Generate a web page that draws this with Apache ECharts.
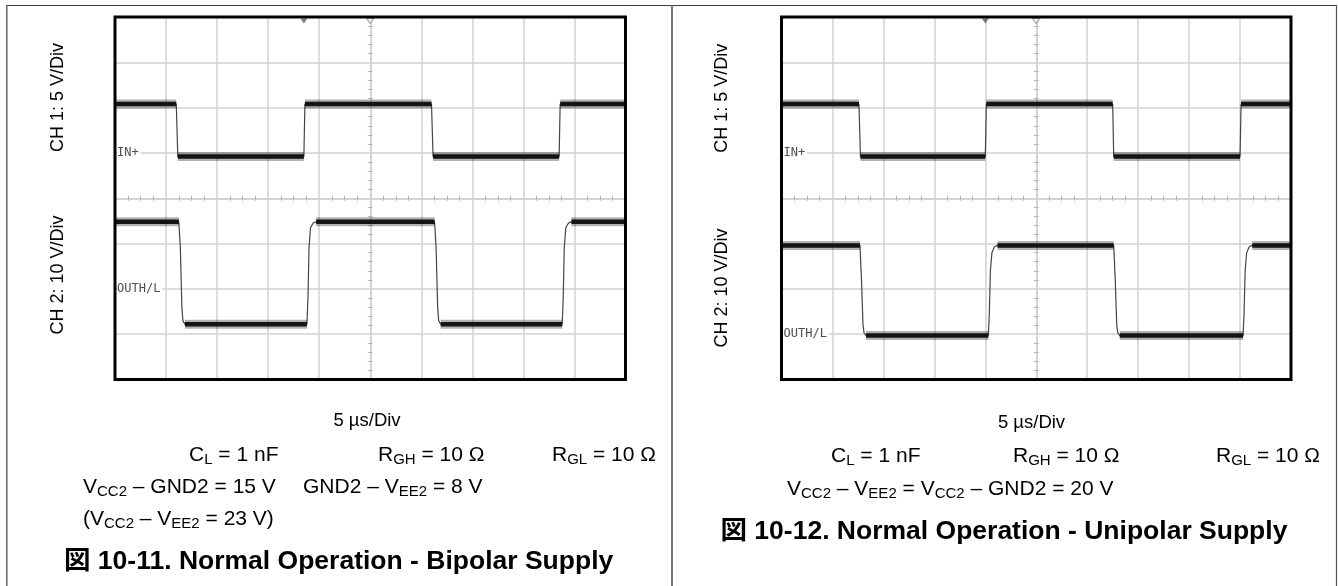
<!DOCTYPE html>
<html>
<head>
<meta charset="utf-8">
<script src="https://cdn.jsdelivr.net/npm/echarts@6/dist/echarts.min.js"></script>
<style>
html,body{margin:0;padding:0;background:#fff;}
#chart{width:1338px;height:586px;}
</style>
</head>
<body>
<div id="chart"></div>
<script>
// Horizontal: 5 µs/div, 10 divisions, 0 µs at the centre graticule line
const timeMin = -25, timeMax = 25, timePerDiv = 5;

// Vertical scales (volts), 8 divisions each
const ch1Axis = { min: -25, max: 15, interval: 5 };            // CH 1: 5 V/Div
const ch2AxisBipolar = { min: -20, max: 60, interval: 10 };    // CH 2: 10 V/Div
const ch2AxisUnipolar = { min: -10, max: 70, interval: 10 };   // CH 2: 10 V/Div

// Waveforms as [time µs, volts]
const bipolarIn = [[-25, 5.4], [-19.0, 5.4], [-18.85, -0.4], [-6.5, -0.4], [-6.4, 5.4],
  [6.0, 5.4], [6.15, -0.4], [18.5, -0.4], [18.6, 5.4], [25, 5.4]];
const bipolarOut = [[-25, 14.8], [-18.75, 14.8], [-18.6, 9], [-18.45, -4], [-18.35, -7], [-18.15, -7.8],
  [-6.2, -7.8], [-6.1, -2], [-6.0, 9], [-5.85, 13.5], [-5.6, 14.5], [-5.3, 14.8],
  [6.3, 14.8], [6.45, 9], [6.6, -4], [6.7, -7], [6.9, -7.8],
  [18.8, -7.8], [18.9, -2], [19.0, 9], [19.15, 13.5], [19.4, 14.5], [19.7, 14.8], [25, 14.8]];
const unipolarIn = [[-25, 5.4], [-17.4, 5.4], [-17.25, -0.4], [-5.0, -0.4], [-4.9, 5.4],
  [7.5, 5.4], [7.6, -0.4], [20.0, -0.4], [20.1, 5.4], [25, 5.4]];
const unipolarOut = [[-25, 19.6], [-17.3, 19.6], [-17.15, 12], [-17.0, 2], [-16.9, 0.3], [-16.7, -0.3],
  [-4.7, -0.3], [-4.6, 5], [-4.5, 14], [-4.35, 18], [-4.1, 19.3], [-3.8, 19.6],
  [7.6, 19.6], [7.75, 12], [7.9, 2], [8.0, 0.3], [8.2, -0.3],
  [20.3, -0.3], [20.4, 5], [20.5, 14], [20.65, 18], [20.9, 19.3], [21.2, 19.6], [25, 19.6]];

// Trigger position markers (µs)
const bipolarTrigger = -6.5;
const unipolarTrigger = -5.0;
const timeReference = 0;

// Channel ground marker names
const ch1Name = 'IN+';
const ch2Name = 'OUTH/L';

const GRID_COLOR = '#d2d2d2';
const TICK_COLOR = '#b4b4b4';
const TXT = '"Liberation Sans", Arial, Helvetica, sans-serif';
const CAP = '"Liberation Sans", Arial, "Noto Sans CJK JP", sans-serif';

// Keep only the flat parts of a trace: the thick noise band sits on the levels
function plateaus(trace) {
  const out = [];
  for (let i = 0; i < trace.length - 1; i++) {
    const a = trace[i], b = trace[i + 1];
    if (a[1] === b[1]) out.push(a, b, [b[0], null]);
  }
  return out;
}

const panels = [
  { rect: { left: 115, top: 17, width: 510.5, height: 362.5 }, ch2: ch2AxisBipolar,
    inTrace: bipolarIn, outTrace: bipolarOut, trigger: bipolarTrigger },
  { rect: { left: 781.5, top: 17, width: 509.5, height: 362.5 }, ch2: ch2AxisUnipolar,
    inTrace: unipolarIn, outTrace: unipolarOut, trigger: unipolarTrigger }
];

const grid = [], xAxis = [], yAxis = [], series = [];
const hidden = { axisLabel: { show: false }, axisTick: { show: false } };

panels.forEach((p, gi) => {
  const bx = xAxis.length, by = yAxis.length;
  grid.push(Object.assign({ show: true, borderColor: '#000', borderWidth: 3,
    backgroundColor: 'transparent', z: 10 }, p.rect));

  // main time axis: vertical graticule lines
  xAxis.push(Object.assign({ gridIndex: gi, type: 'value', min: timeMin, max: timeMax, interval: timePerDiv,
    axisLine: { show: false },
    splitLine: { show: true, showMinLine: false, showMaxLine: false, lineStyle: { color: GRID_COLOR, width: 1.5 } }
  }, hidden));
  // centre horizontal line with sub-division ticks on both sides
  [false, true].forEach(inside => {
    xAxis.push({ gridIndex: gi, type: 'value', min: timeMin, max: timeMax, interval: timePerDiv, position: 'bottom',
      axisLine: { show: true, onZero: true, onZeroAxisIndex: by + 2, lineStyle: { color: GRID_COLOR, width: 1.5 } },
      axisTick: { show: false, inside: inside },
      minorTick: { show: true, splitNumber: 4, length: 2.5, lineStyle: { color: TICK_COLOR, width: 1 } },
      axisLabel: { show: false }, splitLine: { show: false } });
  });

  // CH1 axis: horizontal graticule lines
  yAxis.push(Object.assign({ gridIndex: gi, type: 'value', min: ch1Axis.min, max: ch1Axis.max, interval: ch1Axis.interval,
    axisLine: { show: false },
    splitLine: { show: true, showMinLine: false, showMaxLine: false, lineStyle: { color: GRID_COLOR, width: 1.5 } }
  }, hidden));
  // CH2 axis
  yAxis.push(Object.assign({ gridIndex: gi, type: 'value', min: p.ch2.min, max: p.ch2.max, interval: p.ch2.interval,
    axisLine: { show: false }, splitLine: { show: false } }, hidden));
  // division axes: centre vertical line with sub-division ticks
  [false, true].forEach(inside => {
    yAxis.push({ gridIndex: gi, type: 'value', min: -4, max: 4, interval: 1, position: 'left',
      axisLine: { show: true, onZero: true, onZeroAxisIndex: bx, lineStyle: { color: GRID_COLOR, width: 1.5 } },
      axisTick: { show: false, inside: inside },
      minorTick: { show: true, splitNumber: 5, length: 2.5, lineStyle: { color: TICK_COLOR, width: 1 } },
      axisLabel: { show: false }, splitLine: { show: false } });
  });

  const traces = [[p.inTrace, by], [p.outTrace, by + 1]];
  traces.forEach(([trace, yi]) => {
    series.push({ type: 'line', xAxisIndex: bx, yAxisIndex: yi, data: trace, symbol: 'none',
      lineStyle: { width: 1.2, color: '#444' }, z: 3, silent: true });
    series.push({ type: 'line', xAxisIndex: bx, yAxisIndex: yi, data: plateaus(trace), symbol: 'none',
      connectNulls: false, lineStyle: { width: 9, color: 'rgba(0,0,0,0.3)' }, z: 4, silent: true });
    series.push({ type: 'line', xAxisIndex: bx, yAxisIndex: yi, data: plateaus(trace), symbol: 'none',
      connectNulls: false, lineStyle: { width: 4.5, color: '#141414' }, z: 5, silent: true });
  });

  // ground markers
  [[ch1Name, by], [ch2Name, by + 1]].forEach(([name, yi]) => {
    series.push({ type: 'scatter', xAxisIndex: bx, yAxisIndex: yi, data: [[timeMin, 0]],
      symbolSize: 0.1, itemStyle: { color: 'transparent' }, clip: false, z: 6, silent: true,
      label: { show: true, position: 'right', distance: 2, formatter: name,
        fontFamily: '"DejaVu Sans Mono", "Liberation Mono", monospace', fontSize: 12,
        color: '#222', backgroundColor: '#fff', padding: [1, 2, 0, 0] } });
  });

  // trigger and time-reference markers along the top edge
  series.push({ type: 'scatter', xAxisIndex: bx, yAxisIndex: by + 2, data: [[p.trigger, 4]],
    symbol: 'triangle', symbolRotate: 180, symbolSize: [7, 5], symbolOffset: [0, 4],
    itemStyle: { color: '#5a5a5a' }, clip: false, z: 6, silent: true });
  series.push({ type: 'scatter', xAxisIndex: bx, yAxisIndex: by + 2, data: [[timeReference, 4]],
    symbol: 'triangle', symbolRotate: 180, symbolSize: [7, 5], symbolOffset: [0, 4],
    itemStyle: { color: '#fff', borderColor: '#8a8a8a', borderWidth: 1 }, clip: false, z: 6, silent: true });
});

// Text helpers
const subRich = { s: { fontSize: 15, lineHeight: 15, verticalAlign: 'bottom', fontFamily: TXT, fill: '#000' } };
function txt(x, y, text, extra) {
  return { type: 'text', x: x, y: y, silent: true,
    style: Object.assign({ text: text, fontFamily: TXT, fontSize: 21, lineHeight: 24, fill: '#000',
      align: 'left', verticalAlign: 'middle', rich: subRich }, extra || {}) };
}
function vlabel(x, y, text) {
  return { type: 'text', x: x, y: y, rotation: Math.PI / 2, silent: true,
    style: { text: text, fontFamily: TXT, fontSize: 18, fill: '#000', align: 'center', verticalAlign: 'middle' } };
}
function hline(x1, y1, x2, y2, color, w) {
  return { type: 'line', silent: true, shape: { x1, y1, x2, y2 }, style: { stroke: color, lineWidth: w } };
}

const graphic = [
  // table frame
  hline(6, 5.5, 1337, 5.5, '#3a3a3a', 1.2),
  hline(6.8, 5, 6.8, 586, '#666', 1.5),
  hline(672, 5, 672, 586, '#777', 2),
  hline(1336.5, 5, 1336.5, 586, '#555', 1.2),

  // channel scale labels
  vlabel(58, 97.5, 'CH 1: 5 V/Div'),
  vlabel(58.5, 275, 'CH 2: 10 V/Div'),
  vlabel(722.5, 98.3, 'CH 1: 5 V/Div'),
  vlabel(722.5, 288, 'CH 2: 10 V/Div'),

  // time base
  txt(367, 420.5, '5 µs/Div', { fontSize: 18.5, align: 'center' }),
  txt(1031.5, 422.5, '5 µs/Div', { fontSize: 18.5, align: 'center' }),

  // bipolar conditions
  txt(189, 455, 'C{s|L} = 1 nF'),
  txt(378, 455, 'R{s|GH} = 10 Ω'),
  txt(552, 455, 'R{s|GL} = 10 Ω'),
  txt(83, 487, 'V{s|CC2} \u2013 GND2 = 15 V'),
  txt(303, 487, 'GND2 \u2013 V{s|EE2} = 8 V'),
  txt(83, 519, '(V{s|CC2} \u2013 V{s|EE2} = 23 V)'),
  txt(64, 562, '図 10-11. Normal Operation - Bipolar Supply',
    { fontFamily: CAP, fontWeight: 'bold', fontSize: 26.5, lineHeight: 30 }),

  // unipolar conditions
  txt(831, 456, 'C{s|L} = 1 nF'),
  txt(1013, 456, 'R{s|GH} = 10 Ω'),
  txt(1216, 456, 'R{s|GL} = 10 Ω'),
  txt(787, 489, 'V{s|CC2} \u2013 V{s|EE2} = V{s|CC2} \u2013 GND2 = 20 V'),
  txt(720.5, 532, '図 10-12. Normal Operation - Unipolar Supply',
    { fontFamily: CAP, fontWeight: 'bold', fontSize: 26.5, lineHeight: 30 })
];

const chart = echarts.init(document.getElementById('chart'), null, { renderer: 'canvas' });
chart.setOption({
  backgroundColor: '#fff',
  animation: false,
  grid: grid,
  xAxis: xAxis,
  yAxis: yAxis,
  series: series,
  graphic: graphic
});
</script>
</body>
</html>
